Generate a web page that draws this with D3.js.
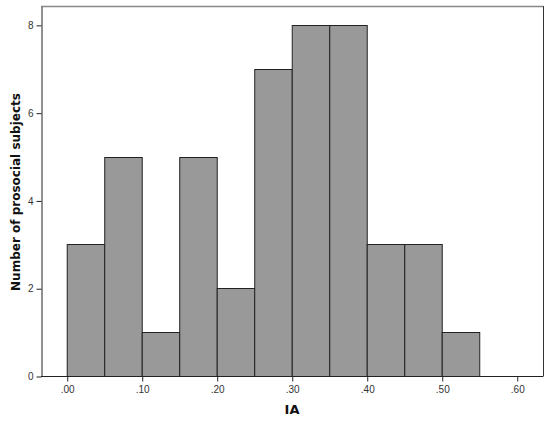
<!DOCTYPE html>
<html><head><meta charset="utf-8">
<script src="https://cdn.jsdelivr.net/npm/d3@7"></script>
<style>body{margin:0;background:#fff}svg{display:block}</style>
</head><body>
<script>
const binStarts = [0.00,0.05,0.10,0.15,0.20,0.25,0.30,0.35,0.40,0.45,0.50];
const binWidth = 0.05;
const counts = [3,5,1,5,2,7,8,8,3,3,1];
const xTicks = [0,0.1,0.2,0.3,0.4,0.5,0.6];
const yTicks = [0,2,4,6,8];
const xTitle = "IA";
const yTitle = "Number of prosocial subjects";

const W=550,H=421;
const L=41,R=543,T=6,B=376;
const svg=d3.select("body").append("svg").attr("width",W).attr("height",H);
const x=d3.scaleLinear().domain([-0.0343,0.635]).range([L,R]);
const y=d3.scaleLinear().domain([0,8.43]).range([B,T]);

svg.selectAll("rect.bar").data(counts).enter().append("rect")
  .attr("class","bar")
  .attr("x",(d,i)=>x(binStarts[i])+0.5)
  .attr("width",(d,i)=>x(binStarts[i]+binWidth)-x(binStarts[i]))
  .attr("y",d=>Math.round(y(d))+0.5)
  .attr("height",d=>B-Math.round(y(d)))
  .attr("fill","#999999").attr("stroke","#222").attr("stroke-width",1);

// frame
svg.append("line").attr("x1",L).attr("x2",R).attr("y1",T+0.5).attr("y2",T+0.5).attr("stroke","#888").attr("stroke-width",1.5);
svg.append("line").attr("x1",R+0.5).attr("x2",R+0.5).attr("y1",T).attr("y2",B).attr("stroke","#333");

const xAxis=svg.append("g").attr("transform",`translate(0.5,${B+0.5})`)
  .call(d3.axisBottom(x).tickValues(xTicks).tickSize(5).tickSizeOuter(0).tickPadding(4)
    .tickFormat(d=>d3.format(".2f")(d).replace(/^0/,"")));
const yAxis=svg.append("g").attr("transform",`translate(${L+0.5},0.5)`)
  .call(d3.axisLeft(y).tickValues(yTicks).tickSize(5).tickSizeOuter(0).tickPadding(3).tickFormat(d3.format("d")));
[xAxis,yAxis].forEach(g=>{
  g.select(".domain").attr("stroke","#222");
  g.selectAll(".tick line").attr("stroke","#222");
  g.selectAll("text").attr("font-family","Liberation Sans, Arial, sans-serif").attr("font-size",10).attr("fill","#333");
});
xAxis.select(".domain").attr("d",`M${L-0.5},0H${R}`);

svg.append("text").attr("x",(L+R)/2).attr("y",414).attr("text-anchor","middle")
  .attr("font-family","DejaVu Sans, sans-serif").attr("font-weight","bold").attr("font-size",13).attr("fill","#111").text(xTitle);
svg.append("text").attr("transform",`translate(20,192) rotate(-90)`).attr("text-anchor","middle")
  .attr("font-family","DejaVu Sans, sans-serif").attr("font-weight","bold").attr("font-size",12).attr("fill","#111").text(yTitle);
</script>
</body></html>
